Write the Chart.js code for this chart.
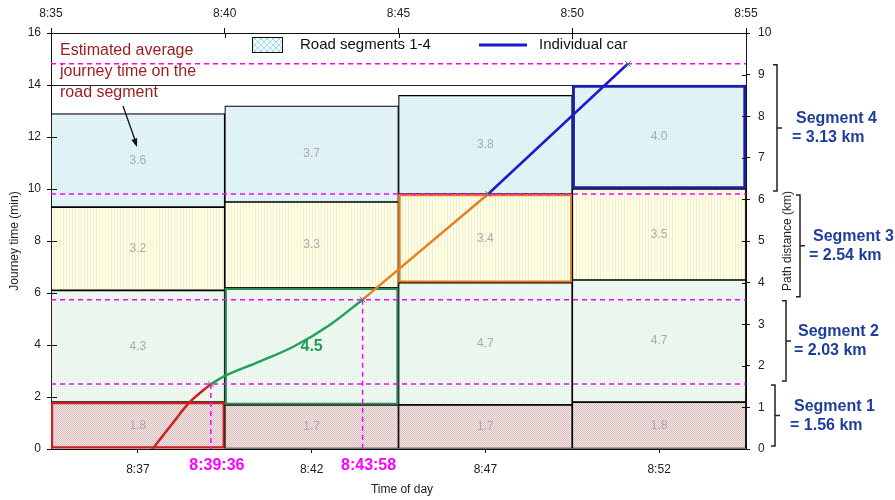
<!DOCTYPE html>
<html>
<head>
<meta charset="utf-8">
<script src="https://cdn.jsdelivr.net/npm/chart.js@4.4.1/dist/chart.umd.min.js"></script>
<style>
  html, body { margin: 0; padding: 0; background: #fff; }
  #wrap { width: 895px; height: 500px; }
</style>
</head>
<body>
<div id="wrap"><canvas id="c" width="895" height="500"></canvas></div>
<script>
// ---- data ----
const topTimeLabels = ['8:35', '8:40', '8:45', '8:50', '8:55'];
const periodLabels = ['8:37', '8:42', '8:47', '8:52'];

// estimated journey time (min) per road segment, per 5-minute period
const seg1Times = [1.8, 1.7, 1.7, 1.8];
const seg2Times = [4.3, 4.5, 4.7, 4.7];
const seg3Times = [3.2, 3.3, 3.4, 3.5];
const seg4Times = [3.6, 3.7, 3.8, 4.0];

// road segment lengths (km)
const segmentLengths = [1.56, 2.03, 2.54, 3.13];

// individual car: minutes after 8:35 vs path distance (km)
const carSeg1 = [{ x: 2.92, y: 0 }, { x: 3.5, y: 0.62 }, { x: 4.0, y: 1.13 }, { x: 4.6, y: 1.56 }];
const carSeg2 = [{ x: 4.6, y: 1.56 }, { x: 5.06, y: 1.78 }, { x: 6.0, y: 2.10 }, { x: 7.0, y: 2.47 }, { x: 8.0, y: 2.97 }, { x: 538 / 60, y: 3.59 }];
const carSeg3 = [{ x: 538 / 60, y: 3.59 }, { x: 12.58, y: 6.13 }];
const carSeg4 = [{ x: 12.58, y: 6.13 }, { x: 16.6, y: 9.26 }];

// times at which the car passes segment boundaries (min after 8:35)
const boundaryTimes = [2.92, 4.6, 538 / 60, 12.58, 16.6];
// boundary times that get a label below the axis
const labelledTimes = [4.6, 538 / 60];

// ---- helpers ----
const FONT = "'Liberation Sans', Arial, Helvetica, sans-serif";
Chart.defaults.font.family = FONT;
Chart.defaults.font.size = 12;
Chart.defaults.color = '#222';

const cumulative = [];
segmentLengths.reduce((acc, v) => { acc += v; cumulative.push(+acc.toFixed(2)); return acc; }, 0);
const boundaryDist = [0, ...cumulative];

function fmtClock(min) {
  const total = Math.round(min * 60) + (8 * 60 + 35) * 60;
  const h = Math.floor(total / 3600), m = Math.floor((total % 3600) / 60), s = total % 60;
  return h + ':' + String(m).padStart(2, '0') + ':' + String(s).padStart(2, '0');
}

function makePattern(size, base, draw) {
  const c = document.createElement('canvas');
  c.width = size; c.height = size;
  const g = c.getContext('2d');
  g.fillStyle = base; g.fillRect(0, 0, size, size);
  draw(g);
  return document.getElementById('c').getContext('2d').createPattern(c, 'repeat');
}
const patSeg1 = makePattern(2, '#f6eaea', g => { g.fillStyle = '#d9b9b9'; g.fillRect(0, 0, 1, 1); g.fillRect(1, 1, 1, 1); });
const patSeg2 = makePattern(2, '#f1f9f3', g => { g.fillStyle = '#dcefe2'; g.fillRect(0, 0, 1, 1); });
const patSeg3 = makePattern(3, '#fdfde9', g => { g.fillStyle = '#f1f1c6'; g.fillRect(0, 0, 1, 3); });
const patSeg4 = makePattern(2, '#e6f6f8', g => { g.fillStyle = '#cdebef'; g.fillRect(0, 0, 1, 1); });
const patLegend = makePattern(6, '#eef9fb', g => {
  g.strokeStyle = '#a9dbe2'; g.lineWidth = 1;
  g.beginPath(); g.moveTo(0, 0); g.lineTo(6, 6); g.moveTo(6, 0); g.lineTo(0, 6); g.stroke();
});

function barSet(label, data, pattern, hiIndex, hiColor, hiWidth) {
  return {
    type: 'bar', label, data, xAxisID: 'x', yAxisID: 'y', order: 3,
    backgroundColor: pattern,
    borderColor: data.map((_, i) => i === hiIndex ? hiColor : '#000'),
    borderWidth: data.map((_, i) => i === hiIndex ? hiWidth : 1.2),
    borderSkipped: false, grouped: false,
    categoryPercentage: 1, barPercentage: 1
  };
}
function lineSet(label, data, color, width, extra) {
  return Object.assign({
    type: 'line', label, data, xAxisID: 'xTop', yAxisID: 'yR', order: 1,
    borderColor: color, borderWidth: width, pointRadius: 0, fill: false, tension: 0
  }, extra || {});
}

const datasets = [
  barSet('Segment 1', seg1Times, patSeg1, 0, '#c81e1e', 2.5),
  barSet('Segment 2', seg2Times, patSeg2, 1, '#2e8b57', 2.5),
  barSet('Segment 3', seg3Times, patSeg3, 2, '#e07a1f', 2.5),
  barSet('Segment 4', seg4Times, patSeg4, 3, '#1c1ca8', 3)
];
// segment boundaries as dashed reference lines
cumulative.forEach(d => datasets.push(lineSet('boundary', [{ x: 0, y: d }, { x: 20, y: d }], '#ff00ff', 1.5, { borderDash: [5, 4], order: 2 })));
labelledTimes.forEach(t => {
  const i = boundaryTimes.indexOf(t);
  datasets.push(lineSet('drop', [{ x: t, y: boundaryDist[i] }, { x: t, y: 0 }], '#ff00ff', 1.5, { borderDash: [5, 4], order: 2 }));
});
// the car's trajectory
datasets.push(lineSet('car 1', carSeg1, '#d0201a', 2.5, { tension: 0.35 }));
datasets.push(lineSet('car 2', carSeg2, '#1fa35a', 2.5, { tension: 0.35 }));
datasets.push(lineSet('car 3', carSeg3, '#e8801f', 2.5));
datasets.push(lineSet('car 4', carSeg4, '#1a1ad0', 2.5));
datasets.push(lineSet('crossings', boundaryTimes.map((t, i) => ({ x: t, y: boundaryDist[i] })), '#666', 1,
  { showLine: false, pointStyle: 'crossRot', pointRadius: 4, order: 0 }));

// ---- drawing plugins ----
const extras = {
  id: 'extras',
  beforeDatasetsDraw(chart) {
    const { ctx, chartArea: a, scales } = chart;
    // reference line at 14 min
    const y14 = Math.round(scales.y.getPixelForValue(14)) + 0.5;
    ctx.save();
    ctx.strokeStyle = '#222'; ctx.lineWidth = 1;
    ctx.beginPath(); ctx.moveTo(a.left, y14); ctx.lineTo(a.right, y14); ctx.stroke();
    ctx.restore();
  },
  afterDatasetsDraw(chart) {
    const { ctx, chartArea: a, scales } = chart;
    ctx.save();
    // values on the bars
    ctx.textAlign = 'center'; ctx.textBaseline = 'middle';
    for (let d = 0; d < 4; d++) {
      const meta = chart.getDatasetMeta(d);
      meta.data.forEach((el, i) => {
        const v = chart.data.datasets[d].data[i];
        const cy = (el.y + el.base) / 2;
        if (d === 1 && i === 1) {
          ctx.font = 'bold 16px ' + FONT; ctx.fillStyle = '#1f9d55';
        } else {
          ctx.font = '12px ' + FONT; ctx.fillStyle = '#ababab';
        }
        ctx.fillText(v.toFixed(1), el.x, cy);
      });
    }
    // inner tick marks
    ctx.strokeStyle = '#111'; ctx.lineWidth = 1;
    ctx.beginPath();
    scales.y.ticks.forEach(t => { const p = Math.round(scales.y.getPixelForValue(t.value)) + 0.5; ctx.moveTo(a.left, p); ctx.lineTo(a.left + 6, p); });
    scales.yR.ticks.forEach(t => { const p = Math.round(scales.yR.getPixelForValue(t.value)) + 0.5; ctx.moveTo(a.right - 4, p); ctx.lineTo(a.right, p); });
    scales.xTop.ticks.forEach(t => { const p = Math.round(scales.xTop.getPixelForValue(t.value)) + 0.5; ctx.moveTo(p, a.top); ctx.lineTo(p, a.top + 5); });
    ctx.stroke();

    // legend
    ctx.fillStyle = patLegend; ctx.fillRect(252, 37, 30, 15);
    ctx.strokeStyle = '#111'; ctx.lineWidth = 1; ctx.strokeRect(252.5, 37.5, 30, 15);
    ctx.font = '15px ' + FONT; ctx.fillStyle = '#111'; ctx.textAlign = 'left'; ctx.textBaseline = 'middle';
    ctx.fillText('Road segments 1-4', 300, 45);
    ctx.strokeStyle = '#1a1ad0'; ctx.lineWidth = 3;
    ctx.beginPath(); ctx.moveTo(479, 45); ctx.lineTo(527, 45); ctx.stroke();
    ctx.fillText('Individual car', 539, 45);

    // note with arrow
    ctx.fillStyle = '#9b1c1c'; ctx.font = '16px ' + FONT; ctx.textBaseline = 'middle';
    ['Estimated average', 'journey time on the', 'road segment'].forEach((s, i) => ctx.fillText(s, 60, 51 + i * 21));
    ctx.strokeStyle = '#111'; ctx.fillStyle = '#111'; ctx.lineWidth = 1.3;
    const ax0 = 123, ay0 = 106, ax1 = 137, ay1 = 147;
    ctx.beginPath(); ctx.moveTo(ax0, ay0); ctx.lineTo(ax1 - 2, ay1 - 7); ctx.stroke();
    const ang = Math.atan2(ay1 - ay0, ax1 - ax0);
    ctx.beginPath(); ctx.moveTo(ax1, ay1);
    ctx.lineTo(ax1 - 9 * Math.cos(ang - 0.35), ay1 - 9 * Math.sin(ang - 0.35));
    ctx.lineTo(ax1 - 9 * Math.cos(ang + 0.35), ay1 - 9 * Math.sin(ang + 0.35));
    ctx.closePath(); ctx.fill();

    // boundary crossing times below the axis
    ctx.fillStyle = '#ff00ff'; ctx.font = 'bold 16px ' + FONT; ctx.textAlign = 'center';
    labelledTimes.forEach(t => ctx.fillText(fmtClock(t), scales.xTop.getPixelForValue(t) + 6, 466));

    // axis titles
    ctx.fillStyle = '#222'; ctx.font = '12px ' + FONT;
    ctx.fillText('Time of day', 402, 490);
    ctx.save(); ctx.translate(15, (a.top + a.bottom) / 2); ctx.rotate(-Math.PI / 2); ctx.fillText('Journey time (min)', 0, 0); ctx.restore();
    ctx.save(); ctx.translate(788, (a.top + a.bottom) / 2); ctx.rotate(-Math.PI / 2); ctx.fillText('Path distance (km)', 0, 0); ctx.restore();

    // segment brackets and lengths
    const bx = [775, 786, 800, 777];
    const tx = [794, 798, 813, 796];
    segmentLengths.forEach((len, i) => {
      const y1 = scales.yR.getPixelForValue(boundaryDist[i + 1]) + 1;
      const y2 = scales.yR.getPixelForValue(boundaryDist[i]) - 3;
      const mid = (y1 + y2) / 2;
      ctx.strokeStyle = '#222'; ctx.lineWidth = 1.5;
      ctx.beginPath();
      ctx.moveTo(bx[i] - 4, y1); ctx.lineTo(bx[i], y1); ctx.lineTo(bx[i], y2); ctx.lineTo(bx[i] - 4, y2);
      ctx.moveTo(bx[i], mid); ctx.lineTo(bx[i] + 5, mid);
      ctx.stroke();
      ctx.fillStyle = '#1f3e9c'; ctx.font = 'bold 16px ' + FONT; ctx.textAlign = 'left'; ctx.textBaseline = 'middle';
      ctx.fillText('Segment ' + (i + 1), tx[i], mid - 9);
      ctx.fillText('= ' + len.toFixed(2) + ' km', tx[i] - 4, mid + 10);
    });
    ctx.restore();
  }
};

const axisBorder = { display: true, color: '#111', width: 1 };

new Chart(document.getElementById('c'), {
  type: 'bar',
  data: { labels: periodLabels, datasets },
  options: {
    responsive: false,
    animation: false,
    layout: { padding: 0 },
    plugins: { legend: { display: false }, tooltip: { enabled: false } },
    scales: {
      x: {
        type: 'category', position: 'bottom', stacked: true, offset: true,
        grid: { offset: false, drawOnChartArea: false, drawTicks: true, tickLength: 4, color: '#111' },
        border: axisBorder,
        ticks: { padding: 9, color: '#222', font: { size: 12 } },
        afterFit(s) { s.height = 51; }
      },
      xTop: {
        type: 'linear', position: 'top', min: 0, max: 20, offset: false,
        grid: { offset: false, drawOnChartArea: false, drawTicks: true, tickLength: 5, color: '#111' },
        border: axisBorder,
        ticks: { stepSize: 5, padding: 7, color: '#222', callback: v => topTimeLabels[v / 5] },
        afterFit(s) { s.height = 33; }
      },
      y: {
        type: 'linear', position: 'left', stacked: true, min: 0, max: 16,
        grid: { drawOnChartArea: false, drawTicks: true, tickLength: 4, color: '#111' },
        border: axisBorder,
        ticks: { stepSize: 2, padding: 6, color: '#222' },
        afterFit(s) { s.width = 51; }
      },
      yR: {
        type: 'linear', position: 'right', min: 0, max: 10,
        grid: { drawOnChartArea: false, drawTicks: true, tickLength: 4, color: '#111' },
        border: axisBorder,
        ticks: { stepSize: 1, padding: 8, color: '#222' },
        afterFit(s) { s.width = 149; }
      }
    }
  },
  plugins: [extras]
});
</script>
</body>
</html>
